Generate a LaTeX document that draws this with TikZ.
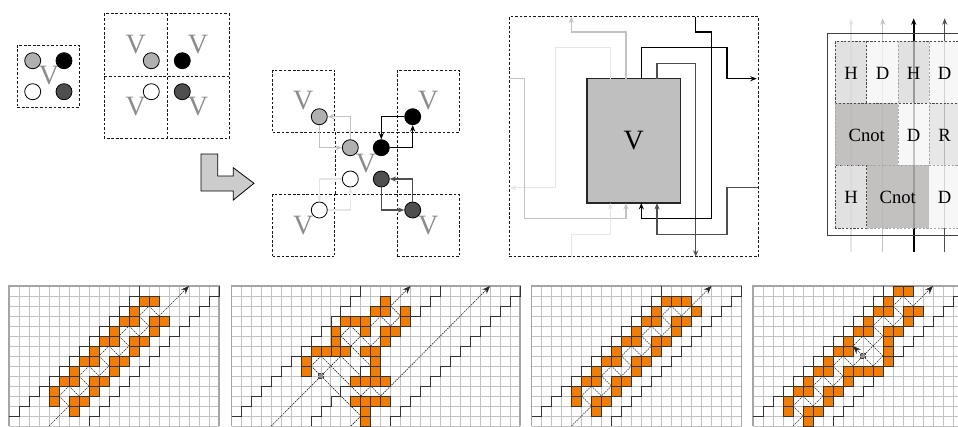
\documentclass[tikz,border=0pt]{standalone}
\usepackage{fontspec}
\setmainfont{Liberation Serif}
\usetikzlibrary{arrows.meta}
\definecolor{cgA}{HTML}{B0B0B0}
\definecolor{cgB}{HTML}{4F4F4F}
\definecolor{cgL}{HTML}{E6E6E6}
\definecolor{cgM}{HTML}{C2C2C2}
\definecolor{cgV}{HTML}{8C8C8C}
\definecolor{cgO}{HTML}{F27D00}
\definecolor{cgG}{HTML}{C2C2C2}
\definecolor{cgC}{HTML}{B8B5B5}
\tikzset{
  qubit/.style={circle,draw=black,line width=.6pt,minimum size=12pt,inner sep=0pt},
  dline/.style={draw=black!90,line width=.6pt,dash pattern=on 2pt off 1.4pt},
  dbox/.style={dline,rectangle,inner sep=0pt,minimum width=46.5pt,minimum height=46.5pt},
  hbox/.style={rectangle,inner sep=0pt,minimum width=46.5pt,minimum height=46.5pt},
  vlab/.style={text=cgV,font=\fontsize{21}{21}\selectfont,inner sep=0pt},
  conn/.style={line width=.95pt,-{Stealth[length=4.8pt,width=3.8pt]}},
  gridln/.style={draw=cgG,line width=.75pt},
  gridfr/.style={draw=cgG!85!black,line width=1pt},
  stair/.style={draw=black!80,line width=.68pt},
  ocell/.style={fill=cgO,draw=black!80,line width=.68pt},
  diag/.style={draw=black!85,line width=.5pt,dash pattern=on 1.1pt off .7pt},
  diagarrow/.style={diag,-{Stealth[length=6pt,width=4.6pt]}},
  pivot/.style={rectangle,fill=black!45,draw=black!75,line width=.4pt,dash pattern=on .6pt off .4pt,minimum size=3.6pt,inner sep=0pt},
  tcell/.style={line width=.55pt,dash pattern=on 1.6pt off 1.2pt},
  ttext/.style={font=\fontsize{14}{14}\selectfont,inner sep=0pt},
}
\newcommand{\gridbase}[1]{%
  \foreach \gx in {0,...,#1} \draw[gridln] (\gx,0) -- (\gx,14);
  \foreach \gy in {0,...,14} \draw[gridln] (0,\gy) -- (#1,\gy);
  \draw[gridfr] (0,14) -- (0,0) -- (#1,0) -- (#1,14);
}
\newcommand{\stairs}[4]{\draw[stair] #1 foreach \k in {#2,...,#3} { -- (\k,{#4-\k}) -- (\k,{#4-1-\k}) };}
\newcommand{\cells}[1]{\foreach \c/\r in {#1} \draw[ocell] (\c,\r) rectangle ++(1,1);}
\newcommand{\dseg}[1]{\foreach \ax/\ay/\bx/\by in {#1} \draw[diag] (\ax,\ay) -- (\bx,\by);}
\begin{document}
\begin{tikzpicture}[x=.75pt,y=-.75pt]
\useasboundingbox (0,0) rectangle (958,426);
\clip (0,0) rectangle (958,426);
% --- small box
\node[dbox] (sbox) at (48.3,76) {};
\node[vlab] (sv) at (49,76) {V};
\node[qubit,fill=cgA] (s1) at (32.7,60.7) {};
\node[qubit,fill=black] (s2) at (64,60.7) {};
\node[qubit,fill=white] (s3) at (32.7,91.7) {};
\node[qubit,fill=cgB] (s4) at (64,91.7) {};
% --- four boxes
\node[hbox] (f1) at (135.7,45) {};
\node[hbox] (f2) at (198,45) {};
\node[hbox] (f3) at (135.7,107) {};
\node[hbox] (f4) at (198,107) {};
\draw[dline] (f1.north west) rectangle (f4.south east);
\draw[dline] (f1.north east) -- (f3.south east);
\draw[dline] (f1.south west) -- (f2.south east);
\node[vlab] (fv1) at (135.7,45) {V};
\node[vlab] (fv2) at (198,45) {V};
\node[vlab] (fv3) at (135.7,107) {V};
\node[vlab] (fv4) at (198,107) {V};
\node[qubit,fill=cgA] (fq1) at (151.3,60.7) {};
\node[qubit,fill=black] (fq2) at (182.3,60.7) {};
\node[qubit,fill=white] (fq3) at (151.3,91.7) {};
\node[qubit,fill=cgB] (fq4) at (182.3,91.7) {};
% --- big arrow
\draw[fill=black!20,line width=.6pt] (201,154) -- (217.7,154) -- (217.7,176) -- (233.3,176) -- (233.3,167.7) -- (254,183.3) -- (233.3,200) -- (233.3,191) -- (201,191) -- cycle;
% --- exploded diagram
\node[dbox] (etl) at (303.7,101) {};
\node[dbox] (etr) at (428.3,101) {};
\node[dbox] (ebl) at (303.7,225.7) {};
\node[dbox] (ebr) at (428.3,225.7) {};
\node[dbox] (ec) at (366,163.3) {};
\node[vlab] (ev1) at (303.3,100.7) {V};
\node[vlab] (ev2) at (428.3,100.7) {V};
\node[vlab] (ev3) at (303.3,225.7) {V};
\node[vlab] (ev4) at (428.3,225.7) {V};
\node[vlab] (ev5) at (366,163.3) {V};
\node[qubit,fill=cgA] (tl) at (319.3,116.7) {};
\node[qubit,fill=black] (tr) at (412.7,116.7) {};
\node[qubit,fill=white] (bl) at (319.3,210) {};
\node[qubit,fill=cgB] (br) at (412.7,210) {};
\node[qubit,fill=cgA] (cg) at (350.3,147.7) {};
\node[qubit,fill=black] (cb) at (381.3,147.7) {};
\node[qubit,fill=white] (cw) at (350.3,179) {};
\node[qubit,fill=cgB] (cd) at (381.3,179) {};
\draw[conn,cgM] (cg.north) |- (tl.east);
\draw[conn,cgM] (tl.south) |- (cg.west);
\draw[conn,black] (tr.west) -| (cb.north);
\draw[conn,black] (cb.east) -| (tr.south);
\draw[conn,cgB] (br.north) |- (cd.east);
\draw[conn,cgB] (cd.south) |- (br.west);
\draw[conn,cgL] (cw.west) -| (bl.north);
\draw[conn,cgL] (bl.east) -| (cw.south);
% --- V block with wires
\node[dline,minimum width=187pt,minimum height=180pt,inner sep=0pt] (vo) at (633.7,136.7) {};
\node[draw=black!85,line width=.8pt,fill=black!25,minimum width=70pt,minimum height=93.2pt,inner sep=0pt,font=\fontsize{21}{21}\selectfont] (vb) at (633.65,140.85) {V};
\coordinate (t1) at (610.3,78.7);
\coordinate (t2) at (626,78.7);
\coordinate (t3) at (641.3,78.7);
\coordinate (t4) at (657,78.7);
\coordinate (b1) at (610.3,203);
\coordinate (b2) at (626,203);
\coordinate (b3) at (641.3,203);
\coordinate (b4) at (657,203);
\draw[conn,cgM] (t2) -- (626,32) -- (571.3,32) -- (571.3,16.7);
\draw[conn,cgL] (t1) -- (610.3,47.7) -- (555.7,47.7) -- (555.7,187.7) -- (510,187.7);
\draw[conn,cgM] (509,78.7) -- (524.7,78.7) -- (524.7,218.7) -- (626,218.7) -- (b2);
\draw[conn,cgL] (571.3,256.7) -- (571.3,234.3) -- (610.3,234.3) -- (b1);
\draw[conn,black] (t3) -- (641.3,47.7) -- (727,47.7) -- (727,78.7) -- (756.7,78.7);
\draw[conn,cgB] (t4) -- (657,63.3) -- (695.7,63.3) -- (695.7,256.7);
\draw[conn,black] (695.7,16.7) -- (695.7,32) -- (711.3,32) -- (711.3,218.7) -- (641.3,218.7) -- (b3);
\draw[conn,cgB] (758.3,187.7) -- (727,187.7) -- (727,234.3) -- (657,234.3) -- (b4);
% --- table
\coordinate (w1) at (851,251.7); \coordinate (w1e) at (851,18.3);
\coordinate (w2) at (882.7,251.7); \coordinate (w2e) at (882.7,18.3);
\coordinate (w3) at (913.7,251.7); \coordinate (w3e) at (913.7,18.3);
\coordinate (w4) at (944.7,251.7); \coordinate (w4e) at (944.7,18.3);
\draw[conn,cgL,line width=1.1pt] (w1) -- (w1e);
\draw[conn,cgM,line width=1.1pt] (w2) -- (w2e);
\draw[conn,black,line width=1.4pt] (w3) -- (w3e);
\draw[conn,cgB,line width=1.1pt] (w4) -- (w4e);
\draw[draw=black!75,line width=.7pt] (827.7,33.7) rectangle (975,235.3);
\fill[black!16,fill opacity=.72] (835.3,41.3) rectangle (866.7,103.3);
\fill[black!4,fill opacity=.8] (866.7,41.3) rectangle (898.3,103.3);
\fill[black!16,fill opacity=.72] (898.3,41.3) rectangle (929.3,103.3);
\fill[black!4,fill opacity=.8] (929.3,41.3) rectangle (961,103.3);
\fill[cgC,fill opacity=.85] (835.3,103.3) rectangle (898.3,165.3);
\fill[black!4,fill opacity=.8] (898.3,103.3) rectangle (929.3,165.3);
\fill[black!13,fill opacity=.72] (929.3,103.3) rectangle (961,165.3);
\fill[black!16,fill opacity=.72] (835.3,165.3) rectangle (866.7,228);
\fill[cgC,fill opacity=.85] (866.7,165.3) rectangle (929.3,228);
\fill[black!4,fill opacity=.8] (929.3,165.3) rectangle (961,228);
\draw[tcell,black!70] (835.3,103.3) -- (835.3,41.3) -- (961,41.3);
\draw[tcell,black!70] (835.3,103.3) -- (961,103.3);
\draw[tcell,black!70] (866.7,41.3) -- (866.7,103.3);
\draw[tcell,black!70] (835.3,228) -- (835.3,165.3) -- (866.7,165.3) -- (866.7,228) -- cycle;
\draw[tcell,black!35] (898.3,41.3) -- (898.3,165.3) -- (929.3,165.3) -- (929.3,41.3);
\draw[tcell,black!35] (835.3,103.3) -- (835.3,165.3) -- (898.3,165.3);
\draw[tcell,black!35] (866.7,228) -- (961,228);
\draw[tcell,black!35] (929.3,165.3) -- (961,165.3);
\node[ttext] (h1) at (851,73) {H};
\node[ttext] (d1) at (882.7,73) {D};
\node[ttext] (h2) at (913.7,73) {H};
\node[ttext] (d2) at (944.7,73) {D};
\node[ttext] (c1) at (866.7,135) {Cnot};
\node[ttext] (d3) at (913.7,135) {D};
\node[ttext] (r1) at (944.7,135) {R};
\node[ttext] (h3) at (851,197) {H};
\node[ttext] (c2) at (897.7,197) {Cnot};
\node[ttext] (d4) at (944.7,197) {D};
% --- lattice 1
\begin{scope}[shift={(9,286)},x=7.5pt,y=-7.5pt]
\gridbase{21}
\stairs{(0,13)}{1}{13}{14}
\stairs{(8,14)}{8}{21}{22}
\coordinate (ga) at (4,14); \coordinate (gb) at (18,0);
\draw[diagarrow] (ga) -- (gb);
\draw[diag] (5,11) -- (14,2);
\foreach \i in {0,...,4} {
  \draw[diag] ({5+2*\i},{11-2*\i}) -- ++(1,1);
  \draw[diag] ({6+2*\i},{10-2*\i}) -- ++(1,1);
}
\cells{13/1,14/1,12/2,11/3,12/3,14/3,15/3,10/4,14/4,9/5,10/5,12/5,13/5,8/6,12/6,7/7,8/7,10/7,11/7,6/8,10/8,5/9,6/9,8/9,9/9,4/10,8/10,4/11,6/11,7/11,6/12}
\end{scope}
% --- lattice 2
\begin{scope}[shift={(231.5,286)},x=7.46pt,y=-7.5pt]
\gridbase{29}
\stairs{(0,13)}{1}{13}{14}
\stairs{(8,14)}{8}{21}{22}
\stairs{(16,14)}{16}{29}{30}
\coordinate (ha) at (4,14); \coordinate (hb) at (18,0);
\coordinate (hc) at (12,14); \coordinate (hd) at (26,0);
\draw[diagarrow] (ha) -- (hb);
\draw[diagarrow] (hc) -- (hd);
\dseg{8/8/12/4,13/7/17/3,13/11/14/10,8/8/13/13,9/7/13/11,10/6/15/11,11/5/14/8,12/4/14/6,15/3/16/4,16/2/17/3}
\cells{15/1,14/2,15/2,17/2,11/3,12/3,13/3,17/3,10/4,13/4,15/4,16/4,10/5,15/5,8/6,9/6,10/6,11/6,13/6,14/6,7/7,14/7,7/8,14/8,12/9,13/9,14/9,15/9,12/11,13/11,14/11,15/11,13/12,13/13}
\node[pivot] (hp) at (9,9) {};
\end{scope}
% --- lattice 3
\begin{scope}[shift={(531.5,286)},x=7.5pt,y=-7.5pt]
\gridbase{21}
\stairs{(0,13)}{1}{13}{14}
\stairs{(8,14)}{8}{21}{22}
\coordinate (ia) at (4,14); \coordinate (ib) at (18,0);
\draw[diagarrow] (ia) -- (ib);
\draw[diag] (5,11) -- (14,2);
\foreach \i in {0,...,4} {
  \draw[diag] ({5+2*\i},{11-2*\i}) -- ++(1,1);
  \draw[diag] ({6+2*\i},{10-2*\i}) -- ++(1,1);
}
\cells{13/1,14/1,15/1,12/2,16/2,11/3,12/3,14/3,15/3,10/4,14/4,9/5,10/5,12/5,13/5,8/6,12/6,7/7,8/7,10/7,11/7,6/8,10/8,5/9,6/9,8/9,9/9,4/10,8/10,4/11,6/11,7/11,6/12}
\end{scope}
% --- lattice 4
\begin{scope}[shift={(753,286)},x=7.5pt,y=-7.5pt]
\gridbase{21}
\stairs{(0,13)}{1}{13}{14}
\stairs{(8,14)}{8}{21}{22}
\coordinate (ja) at (4,14); \coordinate (jb) at (18,0);
\draw[diagarrow] (ja) -- (jb);
\draw[diag] (4,12) -- (15,1);
\dseg{4/12/5/13,5/11/6/12,6/10/7/11,7/9/8/10,8/8/9/9,9/7/10/8,11/5/13/7,13/7/12/8,12/8/11/7,12/4/13/5,13/3/14/4,14/2/15/3,15/1/16/2}
\coordinate (jt) at (10,6);
\node[pivot] (jp) at (11,7) {};
\draw[diagarrow] (jp) -- (jt);
\cells{14/0,15/0,13/1,12/2,13/2,15/2,16/2,11/3,15/3,10/4,11/4,13/4,14/4,9/5,13/5,8/6,9/6,13/6,7/7,13/7,6/8,7/8,9/8,10/8,11/8,12/8,5/9,9/9,4/10,5/10,7/10,8/10,3/11,7/11,3/12,5/12,6/12,5/13}
\end{scope}
\end{tikzpicture}
\end{document}
